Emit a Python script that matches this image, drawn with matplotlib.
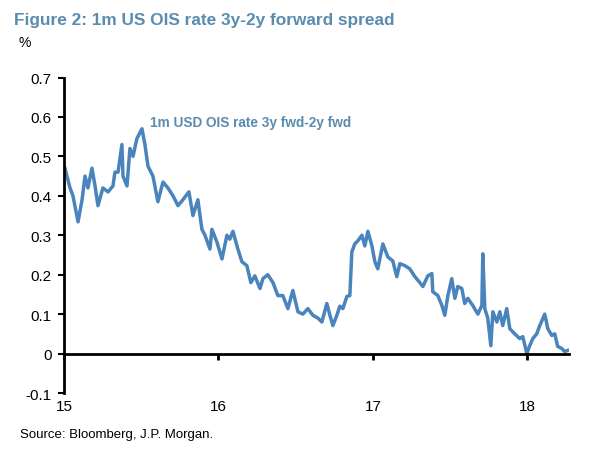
import matplotlib
matplotlib.use("Agg")
import matplotlib.pyplot as plt
from matplotlib import font_manager

# fonts: narrow bold for the title if we have it
names = set(f.name for f in font_manager.fontManager.ttflist)
narrow = "Liberation Sans Narrow" if "Liberation Sans Narrow" in names else "Liberation Sans"
plt.rcParams["font.family"] = ["Liberation Sans", "DejaVu Sans"]

# 1m USD OIS rate 3y fwd - 2y fwd, in % (x = year, 15 = 2015)
years = [
    15.006, 15.039, 15.058, 15.091, 15.117, 15.136, 15.155, 15.181, 15.201, 15.220,
    15.252, 15.285, 15.317, 15.330, 15.350, 15.375, 15.382, 15.408, 15.427, 15.447,
    15.472, 15.505, 15.524, 15.544, 15.576, 15.608, 15.641, 15.673, 15.706, 15.738,
    15.770, 15.809, 15.835, 15.867, 15.893, 15.913, 15.945, 15.958, 15.990, 16.023,
    16.055, 16.074, 16.094, 16.126, 16.152, 16.184, 16.210, 16.236, 16.269, 16.288,
    16.320, 16.353, 16.385, 16.417, 16.450, 16.482, 16.515, 16.547, 16.579, 16.612,
    16.644, 16.670, 16.702, 16.722, 16.741, 16.767, 16.786, 16.806, 16.832, 16.851,
    16.864, 16.883, 16.903, 16.929, 16.948, 16.968, 16.994, 17.013, 17.032, 17.065,
    17.097, 17.129, 17.155, 17.175, 17.207, 17.239, 17.272, 17.304, 17.324, 17.356,
    17.382, 17.388, 17.421, 17.447, 17.466, 17.485, 17.511, 17.531, 17.550, 17.576,
    17.595, 17.615, 17.647, 17.680, 17.706, 17.712, 17.725, 17.744, 17.764, 17.777,
    17.803, 17.822, 17.841, 17.867, 17.887, 17.919, 17.951, 17.971, 17.997, 18.016,
    18.036, 18.061, 18.081, 18.113, 18.133, 18.159, 18.178, 18.197, 18.223, 18.243,
    18.262,
]
spread = [
    0.47, 0.42, 0.40, 0.334, 0.39, 0.45, 0.42, 0.47, 0.425, 0.375,
    0.42, 0.41, 0.425, 0.46, 0.46, 0.53, 0.45, 0.425, 0.52, 0.50,
    0.545, 0.57, 0.53, 0.475, 0.45, 0.385, 0.435, 0.42, 0.40, 0.375,
    0.39, 0.41, 0.35, 0.39, 0.315, 0.30, 0.265, 0.315, 0.283, 0.24,
    0.30, 0.29, 0.31, 0.265, 0.233, 0.223, 0.18, 0.197, 0.165, 0.19,
    0.20, 0.18, 0.147, 0.147, 0.114, 0.16, 0.106, 0.10, 0.114, 0.097,
    0.09, 0.08, 0.127, 0.097, 0.071, 0.097, 0.12, 0.114, 0.145, 0.147,
    0.258, 0.278, 0.286, 0.30, 0.273, 0.31, 0.273, 0.233, 0.215, 0.278,
    0.245, 0.235, 0.195, 0.228, 0.223, 0.215, 0.195, 0.18, 0.17, 0.197,
    0.203, 0.157, 0.147, 0.122, 0.097, 0.145, 0.19, 0.14, 0.17, 0.165,
    0.127, 0.14, 0.122, 0.10, 0.122, 0.253, 0.114, 0.09, 0.02, 0.106,
    0.08, 0.106, 0.071, 0.114, 0.063, 0.05, 0.038, 0.043, 0.0, 0.02,
    0.038, 0.05, 0.071, 0.10, 0.063, 0.046, 0.05, 0.018, 0.013, 0.005,
    0.008,
]
ytick_vals = [-0.1, 0, 0.1, 0.2, 0.3, 0.4, 0.5, 0.6, 0.7]
ytick_labels = ["-0.1", "0", "0.1", "0.2", "0.3", "0.4", "0.5", "0.6", "0.7"]
xtick_vals = [15, 16, 17, 18]
xtick_labels = ["15", "16", "17", "18"]

blue = "#4a84bd"
title_blue = "#5a8cb0"

fig = plt.figure(figsize=(6.06, 4.52), dpi=100)
ax = fig.add_axes([0.1056, 0.1283, 0.8333, 0.698])

ax.plot(years, spread, color=blue, lw=2.5, solid_joinstyle="round")

ax.set_xlim(15, 18.27)
ax.set_ylim(-0.1, 0.7)
ax.set_yticks(ytick_vals)
ax.set_yticklabels(ytick_labels)
ax.set_xticks(xtick_vals)
ax.set_xticklabels(xtick_labels)

for s in ["top", "right"]:
    ax.spines[s].set_visible(False)
ax.spines["left"].set_linewidth(2)
ax.spines["bottom"].set_linewidth(2)
ax.spines["bottom"].set_position(("data", 0))
ax.tick_params(axis="y", direction="out", length=4, width=1.5, labelsize=11, pad=5)
ax.tick_params(axis="x", direction="out", length=4, width=2, labelsize=11, pad=29)

ax.text(0.17, 0.845, "1m USD OIS rate 3y fwd-2y fwd", transform=ax.transAxes,
        color=title_blue, fontsize=9.8, fontweight="bold", family=[narrow, "DejaVu Sans"])

fig.text(0.023, 0.955, "Figure 2: 1m US OIS rate 3y-2y forward spread",
         color=title_blue, fontsize=12.4, fontweight="bold",
         family=[narrow, "DejaVu Sans"], va="center")
fig.text(0.03, 0.905, "%", fontsize=10, va="center")
fig.text(0.033, 0.037, "Source: Bloomberg, J.P. Morgan.", fontsize=9.5, va="center")

fig.savefig("out.png", dpi=100)
